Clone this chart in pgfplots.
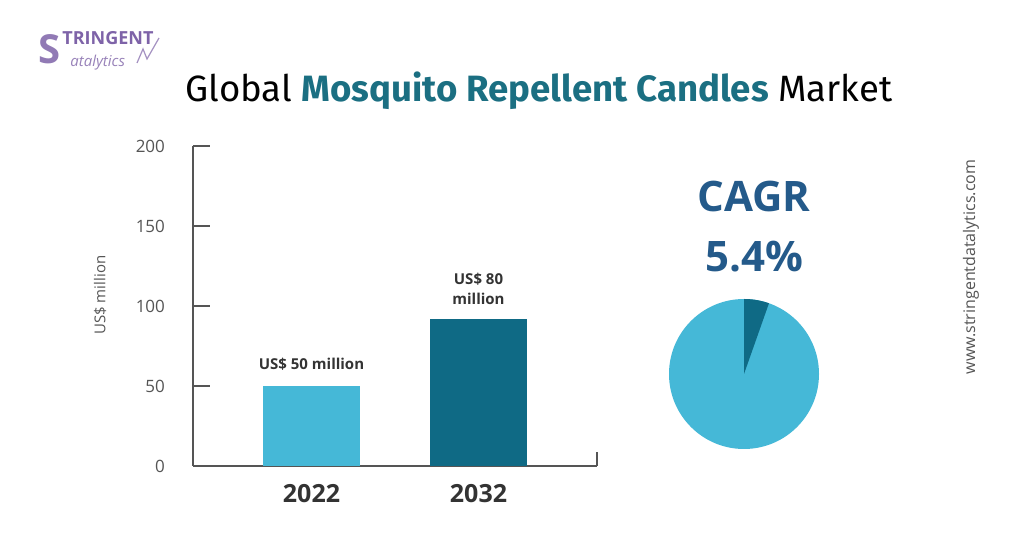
\documentclass[border=0pt]{standalone}
\usepackage{pgfplots}
\pgfplotsset{compat=1.18}
\usepackage{fontspec}
\setmainfont{Fira Sans}
\newfontfamily\opensans{Open Sans}

\definecolor{lightbar}{HTML}{45B8D7}
\definecolor{darkbar}{HTML}{0F6A85}
\definecolor{titleteal}{HTML}{1B6F82}
\definecolor{cagrblue}{HTML}{245A8A}
\definecolor{axisgray}{HTML}{555555}
\definecolor{txtgray}{HTML}{555555}
\definecolor{logopurple}{HTML}{7E63A8}

% positions: 1 px of the 1024x535 layout = 0.5pt, origin bottom left
\begin{document}
\begin{tikzpicture}
\fill[white] (0,0) rectangle (512pt,267.5pt);

% logo
\node[anchor=west,inner sep=0pt,text=logopurple!85,font=\opensans\bfseries\fontsize{20}{20}\selectfont] at (19pt,243pt) {S};
\node[anchor=west,inner sep=0pt,text=logopurple,font=\opensans\bfseries\fontsize{9}{9}\selectfont] at (31pt,248.5pt) {TRINGENT};
\node[anchor=west,inner sep=0pt,text=logopurple!80,font=\opensans\itshape\fontsize{7.5}{8}\selectfont] at (35pt,236pt) {atalytics};
\draw[logopurple!70,line width=0.6pt] (68.5pt,236pt) -- (71.5pt,243pt) -- (73.5pt,238pt) -- (79.5pt,248.5pt);

% title
\node[font=\fontsize{18.3}{20}\selectfont] at (269.5pt,222pt)
  {Global \textcolor{titleteal}{\bfseries Mosquito Repellent Candles} Market};

% website
\node[rotate=90,text=txtgray,font=\opensans\fontsize{8}{9}\selectfont] at (485.5pt,134pt) {www.stringentdatalytics.com};

% bar chart
\begin{axis}[
    at={(96.5pt,34.5pt)}, anchor=south west,
    scale only axis, width=202pt, height=160pt,
    xmin=-0.7096, xmax=1.7096,
    ymin=0, ymax=200,
    axis lines=left, axis line style={axisgray, line width=0.6pt, -},
    ytick={0,50,100,150,200},
    yticklabel style={text=txtgray, font=\opensans\fontsize{8.5}{9}\selectfont, xshift=-10.5pt},
    /pgf/number format/assume math mode=true,
    ytick align=inside, major tick length=8.5pt,
    tick style={axisgray, line width=0.6pt},
    xtick={0,1}, xticklabels={2022,2032},
    xtick style={draw=none},
    xticklabel style={text=black!80, font=\opensans\bfseries\fontsize{12.5}{13}\selectfont, yshift=3pt},
    ylabel={US\$ million},
    every axis y label/.style={at={(rel axis cs:0,0.534)}, xshift=-46.5pt, rotate=90, anchor=center,
        text=txtgray, font=\opensans\fontsize{7.5}{8}\selectfont},
    ybar, bar width=48.5pt, bar shift=0pt,
    clip=false,
]
\addplot[fill=lightbar, draw=none] coordinates {(0,50)};
\addplot[fill=darkbar, draw=none] coordinates {(1,92)};
\node[font=\opensans\bfseries\fontsize{7.5}{9}\selectfont, text=black!80, anchor=south] at (axis cs:0,50) [yshift=4.5pt] {US\$ 50 million};
\node[font=\opensans\bfseries\fontsize{7.5}{10}\selectfont, text=black!80, anchor=south, align=center] at (axis cs:1,92) [yshift=3.5pt] {US\$ 80\\million};
\draw[axisgray, line width=0.6pt] (axis cs:1.7096,0) -- (axis cs:1.7096,9);
\end{axis}

% CAGR
\node[text=cagrblue,font=\opensans\bfseries\fontsize{21}{24}\selectfont] at (377pt,169pt) {CAGR};
\node[text=cagrblue,font=\opensans\bfseries\fontsize{21}{24}\selectfont] at (377pt,139pt) {5.4\%};

% pie
\begin{axis}[
    at={(372pt,80.5pt)}, anchor=center,
    scale only axis, width=75pt, height=75pt,
    xmin=-1, xmax=1, ymin=-1, ymax=1,
    hide axis, clip=false,
]
\fill[lightbar] (axis cs:0,0) circle[radius=37.5pt];
\fill[darkbar] (axis cs:0,0) -- (axis cs:0,1) arc[start angle=90, end angle={90-360*0.054}, radius=37.5pt] -- cycle;
\end{axis}
\end{tikzpicture}
\end{document}
